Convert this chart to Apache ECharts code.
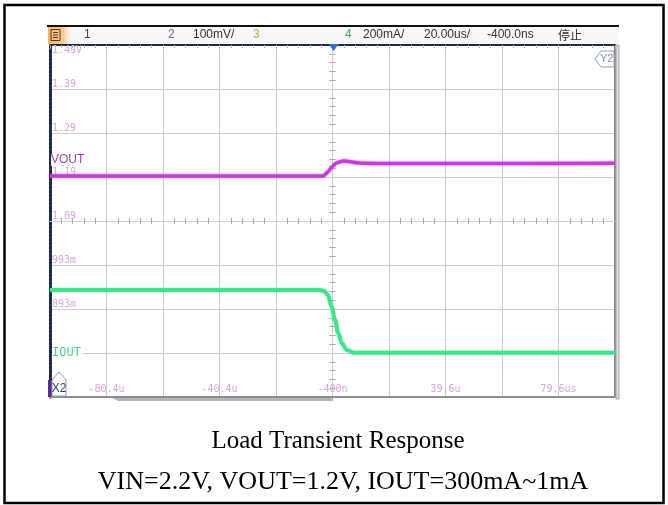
<!DOCTYPE html>
<html>
<head>
<meta charset="utf-8">
<script src="https://cdn.jsdelivr.net/npm/echarts@6/dist/echarts.min.js"></script>
<style>
  html, body { margin: 0; padding: 0; background: #ffffff; }
  #chart { width: 668px; height: 505px; }
</style>
</head>
<body>
<div id="chart"></div>
<script>
// ---- Scope settings: 10 horizontal divisions of 20 us, centre at -400 ns ----
const timeDivIndex = [-5, -4, -3, -2, -1, 0, 1, 2, 3, 4, 5];
const timeDivLabels = ['', '-80.4u', '', '-40.4u', '', '-400n', '', '39.6u', '', '79.6us', ''];
const timeWindowUs = [-100.4, 99.6];

// ---- 8 vertical divisions; scale readout of the left ruler ----
const voltDivIndex = [-4, -3, -2, -1, 0, 1, 2, 3, 4];
const voltDivLabels = ['', '', '893m', '993m', '1.09', '1.19', '1.29', '1.39', '1.49V'];

// Channel 2 (VOUT) 100 mV/div, channel 4 (IOUT) 200 mA/div
const voutWindowV = [0.69, 1.49];
const ioutWindowMA = [-200, 1400];

// ---- Header readout ----
const headerItems = [
  { text: '1', color: '#444444' },
  { text: '2', color: '#9a4fa8' },
  { text: '100mV/', color: '#333333' },
  { text: '3', color: '#c2a84a' },
  { text: '4', color: '#3aa860' },
  { text: '200mA/', color: '#333333' },
  { text: '20.00us/', color: '#333333' },
  { text: '-400.0ns', color: '#333333' },
  { text: '停止', color: '#333333' }
];

// ---- Captured waveforms ----
const voutTimeUs = [-100.4, -60, -30, -3.7, -1.9, -0.7, 1.1, 3.4, 5.8, 8.2, 10.5, 20, 50, 99.6];
const voutVolts  = [1.192, 1.192, 1.192, 1.192, 1.202, 1.213, 1.2225, 1.2264, 1.2248, 1.2225, 1.2211, 1.2207, 1.2207, 1.2212];

const ioutTimeUs     = [-100.4, -50, -5.0, -3.4, -2.0, -0.7, 0.5, 1.65, 2.86, 4.6, 7.0, 10, 50, 99.6];
const ioutMilliamps  = [286, 286, 286, 282, 264, 210, 150, 91, 45, 14, 1.5, 1, 1, 1];

const labelColor = '#d7a7d7';
const gridColor = '#cdcdcd';
const monoFont = '"DejaVu Sans Mono", "Liberation Mono", monospace';

const chart = echarts.init(document.getElementById('chart'), null, { renderer: 'canvas' });

function divAxisBase(min, max) {
  return { type: 'value', min: min, max: max, interval: 1, silent: true };
}

const option = {
  animation: false,
  backgroundColor: '#ffffff',
  grid: { left: 50, right: 53, top: 45, bottom: 108, containLabel: false },
  xAxis: [
    Object.assign(divAxisBase(-5, 5), {
      position: 'bottom',
      axisLine: { show: true, onZero: false, lineStyle: { color: '#8e8e8e', width: 2 } },
      axisTick: { show: false },
      axisLabel: {
        inside: true, margin: 3, color: labelColor, fontFamily: monoFont, fontSize: 10,
        formatter: v => timeDivLabels[timeDivIndex.indexOf(Math.round(v))] || ''
      },
      splitLine: { show: true, lineStyle: { color: gridColor, width: 1 } }
    }),
    Object.assign(divAxisBase(-5, 5), {
      position: 'top',
      axisLine: { show: true, onZero: false, lineStyle: { color: '#1f2d4d', width: 2 } },
      axisTick: { show: true, inside: true, length: 4, lineStyle: { color: '#b0b0b0' } },
      minorTick: { show: true, splitNumber: 5, length: 3, lineStyle: { color: '#b8b8b8' } },
      axisLabel: { show: false },
      splitLine: { show: false }
    }),
    Object.assign(divAxisBase(-5, 5), {
      position: 'bottom',
      axisLine: { show: true, onZero: true, onZeroAxisIndex: 0, lineStyle: { color: gridColor, width: 1 } },
      axisTick: { show: false, inside: true },
      minorTick: { show: true, splitNumber: 5, length: 3, lineStyle: { color: '#a8a8a8' } },
      axisLabel: { show: false },
      splitLine: { show: false }
    }),
    Object.assign(divAxisBase(-5, 5), {
      position: 'bottom',
      axisLine: { show: false, onZero: true, onZeroAxisIndex: 0 },
      axisTick: { show: false, inside: false },
      minorTick: { show: true, splitNumber: 5, length: 3, lineStyle: { color: '#a8a8a8' } },
      axisLabel: { show: false },
      splitLine: { show: false }
    }),
    { type: 'value', min: timeWindowUs[0], max: timeWindowUs[1], show: false }
  ],
  yAxis: [
    Object.assign(divAxisBase(-4, 4), {
      position: 'left',
      axisLine: { show: true, onZero: false, lineStyle: { color: '#1d2846', width: 3, type: [3, 1] } },
      axisTick: { show: false },
      axisLabel: {
        inside: true, margin: 2, color: labelColor, fontFamily: monoFont, fontSize: 10,
        verticalAlign: 'bottom', verticalAlignMaxLabel: 'top',
        formatter: v => voltDivLabels[voltDivIndex.indexOf(Math.round(v))] || ''
      },
      splitLine: { show: true, lineStyle: { color: gridColor, width: 1 } }
    }),
    Object.assign(divAxisBase(-4, 4), {
      position: 'right',
      axisLine: { show: true, onZero: false, lineStyle: { color: '#8a8a8a', width: 2 } },
      axisTick: { show: false },
      axisLabel: { show: false },
      splitLine: { show: false }
    }),
    Object.assign(divAxisBase(-4, 4), {
      position: 'left',
      axisLine: { show: false, onZero: true, onZeroAxisIndex: 0 },
      axisTick: { show: false, inside: false },
      minorTick: { show: true, splitNumber: 5, length: 3, lineStyle: { color: '#a8a8a8' } },
      axisLabel: { show: false },
      splitLine: { show: false }
    }),
    Object.assign(divAxisBase(-4, 4), {
      position: 'left',
      axisLine: { show: false, onZero: true, onZeroAxisIndex: 0 },
      axisTick: { show: false, inside: true },
      minorTick: { show: true, splitNumber: 5, length: 3, lineStyle: { color: '#a8a8a8' } },
      axisLabel: { show: false },
      splitLine: { show: false }
    }),
    { type: 'value', min: voutWindowV[0], max: voutWindowV[1], show: false },
    { type: 'value', min: ioutWindowMA[0], max: ioutWindowMA[1], show: false }
  ],
  series: [
    {
      name: 'VOUT', type: 'line', xAxisIndex: 4, yAxisIndex: 4,
      data: voutTimeUs.map((t, i) => [t, voutVolts[i]]),
      showSymbol: false, symbol: 'none', z: 5,
      smooth: 0.25, smoothMonotone: 'x',
      lineStyle: { color: '#c43cda', width: 3.5, shadowColor: 'rgba(196,60,218,0.6)', shadowBlur: 3 }
    },
    {
      name: 'IOUT', type: 'line', xAxisIndex: 4, yAxisIndex: 5,
      data: ioutTimeUs.map((t, i) => [t, ioutMilliamps[i]]),
      showSymbol: false, symbol: 'none', z: 5,
      smooth: 0.35, smoothMonotone: 'x',
      lineStyle: { color: '#3fe58d', width: 4, shadowColor: 'rgba(63,229,141,0.5)', shadowBlur: 2 }
    }
  ]
};

chart.setOption(option);

// ---- Decorations placed from the axes' own pixel mapping ----
const px = (xi, v) => chart.convertToPixel({ xAxisIndex: xi }, v);
const py = (yi, v) => chart.convertToPixel({ yAxisIndex: yi }, v);

const plotLeft = px(0, -5), plotRight = px(0, 5), plotTop = py(0, 4), plotBottom = py(0, -4);
const trigX = px(4, 0);
const ioutZeroY = py(5, 0);
const voutStartY = py(4, voutVolts[0]);

const headerX = [84, 168, 193, 253, 345, 363, 424, 487, 558];
const headerY = 35;

const graphics = [
  // outer frame
  { type: 'rect', shape: { x: 4.5, y: 5, width: 659, height: 498 },
    style: { fill: 'none', stroke: '#000000', lineWidth: 2.5 }, z: 100 },
  // header band
  { type: 'rect', shape: { x: plotLeft - 3, y: 26, width: plotRight - plotLeft + 7, height: plotTop - 27 },
    style: { fill: '#f8f8f8' }, z: 10 },
  { type: 'line', shape: { x1: plotLeft - 3, y1: 26, x2: plotRight + 4, y2: 26 },
    style: { stroke: '#111111', lineWidth: 2 }, z: 11 },
  { type: 'rect', shape: { x: plotLeft - 2, y: 27, width: 26, height: plotTop - 28 },
    style: { fill: new echarts.graphic.LinearGradient(0, 0, 1, 0, [
      { offset: 0, color: '#f5b36a' }, { offset: 0.6, color: '#f8cc96' }, { offset: 1, color: 'rgba(248,248,248,0)' }
    ]) }, z: 11 },
  { type: 'rect', shape: { x: plotLeft + 1, y: 29.5, width: 9, height: 11 },
    style: { fill: 'none', stroke: '#5a3a20', lineWidth: 1 }, z: 12 },
  { type: 'line', shape: { x1: plotLeft + 3, y1: 32.5, x2: plotLeft + 8, y2: 32.5 }, style: { stroke: '#5a3a20', lineWidth: 1 }, z: 12 },
  { type: 'line', shape: { x1: plotLeft + 3, y1: 35, x2: plotLeft + 8, y2: 35 }, style: { stroke: '#5a3a20', lineWidth: 1 }, z: 12 },
  { type: 'line', shape: { x1: plotLeft + 3, y1: 37.5, x2: plotLeft + 8, y2: 37.5 }, style: { stroke: '#5a3a20', lineWidth: 1 }, z: 12 },
  // scroll strip on the right of the screen
  { type: 'rect', shape: { x: plotRight + 1, y: plotTop, width: 3, height: plotBottom - plotTop + 2 },
    style: { fill: '#dcdcdc', stroke: '#a9a9a9', lineWidth: 1 }, z: 9 },
  // memory overview bar below the time axis
  { type: 'polygon', shape: { points: [[112, plotBottom + 1], [118, plotBottom + 4], [333, plotBottom + 4], [333, plotBottom + 1]] },
    style: { fill: '#b5b5b5' }, z: 9 },
  // trigger position marker
  { type: 'polygon', shape: { points: [[trigX - 5, plotTop - 1], [trigX + 5, plotTop - 1], [trigX, plotTop + 6]] },
    style: { fill: '#2f6fd6' }, z: 12 },
  // Y2 cursor flag
  { type: 'polygon', shape: { points: [[plotRight - 1, plotTop + 6], [plotRight - 14, plotTop + 6], [plotRight - 20, plotTop + 14], [plotRight - 14, plotTop + 22], [plotRight - 1, plotTop + 22]] },
    style: { fill: '#ffffff', stroke: '#8fa3b5', lineWidth: 1 }, z: 12 },
  { type: 'text', style: { x: plotRight - 15, y: plotTop + 14, text: 'Y2', fill: '#7f93a6', font: '11px "Liberation Sans", Arial, sans-serif', verticalAlign: 'middle' }, z: 13 },
  // X2 cursor flag
  { type: 'rect', shape: { x: plotLeft - 2, y: plotBottom - 17, width: 3, height: 17 }, style: { fill: '#5a2a8a' }, z: 12 },
  { type: 'polygon', shape: { points: [[plotLeft + 2, plotBottom - 1], [plotLeft + 2, plotBottom - 17], [plotLeft + 9, plotBottom - 25], [plotLeft + 16, plotBottom - 17], [plotLeft + 16, plotBottom - 1]] },
    style: { fill: '#ffffff', stroke: '#8fa0b8', lineWidth: 1 }, z: 12 },
  { type: 'text', style: { x: plotLeft + 9, y: plotBottom - 8, text: 'X2', fill: '#33437a', font: '12px "Liberation Sans", Arial, sans-serif', align: 'center', verticalAlign: 'middle' }, z: 13 },
  // channel labels
  { type: 'text', style: { x: plotLeft + 1, y: voutStartY - 16, text: 'VOUT', fill: '#a23fb3', font: '12px "Liberation Sans", Arial, sans-serif', verticalAlign: 'middle', backgroundColor: 'rgba(255,255,255,0.9)' }, z: 13 },
  { type: 'text', style: { x: plotLeft + 2, y: ioutZeroY, text: 'IOUT', fill: '#4fcf8e', font: '12px ' + monoFont, verticalAlign: 'middle', backgroundColor: '#ffffff', padding: [1, 2, 1, 0] }, z: 13 },
  // caption
  { type: 'text', style: { x: 338, y: 441, text: 'Load Transient Response', fill: '#000000', font: '25px "Liberation Serif", "Times New Roman", serif', align: 'center', verticalAlign: 'middle' }, z: 20 },
  { type: 'text', style: { x: 343, y: 482, text: 'VIN=2.2V, VOUT=1.2V, IOUT=300mA~1mA', fill: '#000000', font: '26px "Liberation Serif", "Times New Roman", serif', align: 'center', verticalAlign: 'middle' }, z: 20 }
];

headerItems.forEach((item, i) => {
  const cjk = /[\u4e00-\u9fff]/.test(item.text);
  graphics.push({
    type: 'text', z: 12,
    style: {
      x: headerX[i], y: headerY, text: item.text, fill: item.color, verticalAlign: 'middle',
      font: cjk ? '12px "Noto Sans CJK SC", sans-serif' : '12px "Liberation Sans", Arial, sans-serif'
    }
  });
});

chart.setOption({ graphic: { elements: graphics } });
</script>
</body>
</html>
